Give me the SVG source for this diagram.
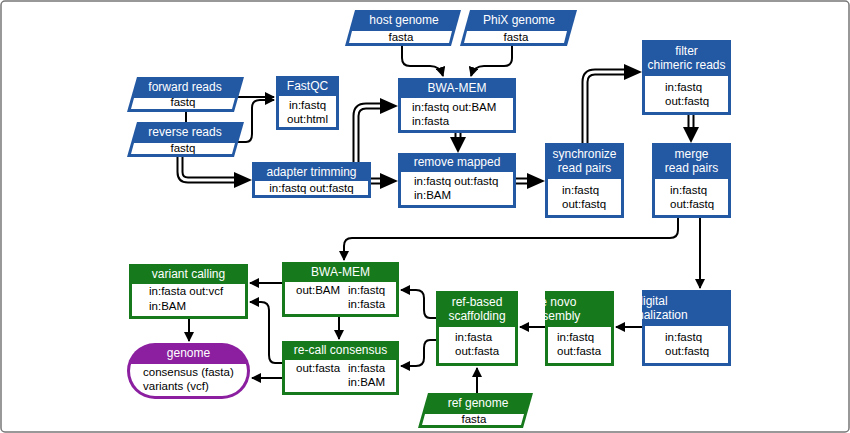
<svg xmlns="http://www.w3.org/2000/svg" width="850" height="433" viewBox="0 0 850 433">
<style>
text{font-family:"Liberation Sans",Arial,sans-serif;font-size:11.5px}
.h{fill:#fff;text-anchor:middle;font-size:12px}
.b{fill:#000}
.c{text-anchor:middle}
.blue{fill:#2358a3}
.green{fill:#167a1c}
.w{fill:#fff}
.s{fill:none;stroke:#000;stroke-width:2}
.d1{fill:none;stroke:#000;stroke-width:7}
.d2{fill:none;stroke:#fff;stroke-width:3}
</style>
<defs>
<marker id="a" viewBox="0 0 10 10" refX="9" refY="5" markerWidth="5" markerHeight="5" orient="auto"><path d="M0,0L10,5L0,10z"/></marker>
<marker id="ad" viewBox="0 0 10 10" refX="9" refY="5" markerWidth="2.6" markerHeight="2.6" orient="auto"><path d="M0,0L10,5L0,10z"/></marker>
<clipPath id="gc"><rect x="130" y="346" width="117" height="50" rx="25"/></clipPath>
</defs>
<rect x="1" y="1" width="848" height="431" rx="4" fill="#fff" stroke="#777" stroke-width="1.5"/>

<g id="connectors">
<g class="double">
<path class="d1" d="M180,157V172q0,8 8,8H236"/><path class="d2" d="M180,157V172q0,8 8,8H238"/>
<path d="M234,172L252,180L234,188z"/>
<path class="d1" d="M356,162V116q0,-10 10,-10H382"/><path class="d2" d="M356,163V116q0,-10 10,-10H384"/>
<path d="M380,98L398,106L380,114z"/>
<path class="d1" d="M371,181H382"/><path class="d2" d="M370,181H384"/>
<path d="M380,173L398,181L380,189z"/>
<path class="d1" d="M458,133V140"/><path class="d2" d="M458,132V141"/>
<path d="M450,137L458,153L466,137z"/>
<path class="d1" d="M516,181H529"/><path class="d2" d="M515,181H531"/>
<path d="M527,173L545,181L527,189z"/>
<path class="d1" d="M585,143V82q0,-10 10,-10H626"/><path class="d2" d="M585,144V82q0,-10 10,-10H628"/>
<path d="M624,64L642,72L624,80z"/>
<path class="d1" d="M691,115V128"/><path class="d2" d="M691,114V130"/>
<path d="M683,127L691,143L699,127z"/>
</g>
<line x1="186" y1="112" x2="186" y2="122" stroke="#000" stroke-width="2"/>
<path class="s" d="M236,97H274" marker-end="url(#a)"/>
<path class="s" d="M238,142H246q6,0 6,-8V108q0,-8 8,-8H274" marker-end="url(#a)"/>
<path class="s" d="M402,46V58q0,8 8,8H430q10,0 13,10" marker-end="url(#a)"/>
<path class="s" d="M512,46V58q0,8 -8,8H484q-10,0 -13,10" marker-end="url(#a)"/>
<path class="s" d="M678,218V230q0,8 -8,8H352q-8,0 -8,8V260" marker-end="url(#a)"/>
<path class="s" d="M700,218V288" marker-end="url(#a)"/>
<path class="s" d="M642,327H616" marker-end="url(#a)"/>
<path class="s" d="M545,327H520" marker-end="url(#a)"/>
<path class="s" d="M477,393V368" marker-end="url(#a)"/>
<path class="s" d="M436,318H430q-6,0 -6,-8V298q0,-8 -8,-8H401" marker-end="url(#a)"/>
<path class="s" d="M436,340H430q-6,0 -6,8V358q0,8 -8,8H401" marker-end="url(#a)"/>
<path class="s" d="M282,283H250" marker-end="url(#a)"/>
<path class="s" d="M282,363H275q-6,0 -6,-8V310q0,-8 -8,-8H250" marker-end="url(#a)"/>
<path class="s" d="M282,378H252" marker-end="url(#a)"/>
<path class="s" d="M189,319V341" marker-end="url(#a)"/>
<path class="s" d="M339,317V339" marker-end="url(#a)"/>
</g>

<g id="forward-reads"><polygon class="blue" points="137,77 244,77 234,112 127,112"/><polygon class="w" points="134,98 235,98 232,109 131,109"/><text class="h" x="185" y="91">forward reads</text><text class="c" x="183" y="106">fastq</text></g>
<g id="reverse-reads"><polygon class="blue" points="137,122 244,122 234,157 127,157"/><polygon class="w" points="134,143 235,143 232,154 131,154"/><text class="h" x="185" y="136">reverse reads</text><text class="c" x="183" y="152">fastq</text></g>
<g id="fastqc"><rect class="blue" x="276" y="76" width="63" height="54"/><rect class="w" x="279" y="96" width="57" height="31"/><text class="h" x="307.5" y="90">FastQC</text><text class="c" x="307.5" y="109">in:fastq</text><text class="c" x="307.5" y="123">out:html</text></g>
<g id="host-genome"><polygon class="blue" points="355,10 461,10 451,46 345,46"/><polygon class="w" points="352,31 452,31 449,43 349,43"/><text class="h" x="404" y="24">host genome</text><text class="c" x="401" y="41">fasta</text></g>
<g id="phix-genome"><polygon class="blue" points="470,10 577,10 567,46 460,46"/><polygon class="w" points="467,31 567,31 564,43 464,43"/><text class="h" x="519" y="24">PhiX genome</text><text class="c" x="516" y="41">fasta</text></g>
<g id="bwa-mem-1"><rect class="blue" x="398" y="78" width="118" height="55"/><rect class="w" x="401" y="98" width="112" height="32"/><text class="h" x="457" y="92">BWA-MEM</text><text class="b" x="412" y="111">in:fastq  out:BAM</text><text class="b" x="412" y="125">in:fasta</text></g>
<g id="adapter-trimming"><rect class="blue" x="252" y="162" width="119" height="36"/><rect class="w" x="255" y="181" width="113" height="14"/><text class="h" x="311.5" y="176">adapter trimming</text><text class="c" x="311.5" y="192">in:fastq  out:fastq</text></g>
<g id="remove-mapped"><rect class="blue" x="398" y="153" width="118" height="55"/><rect class="w" x="401" y="172" width="112" height="33"/><text class="h" x="457" y="166">remove mapped</text><text class="b" x="414" y="185">in:fastq  out:fastq</text><text class="b" x="414" y="199">in:BAM</text></g>
<g id="synchronize"><rect class="blue" x="545" y="143" width="79" height="75"/><rect class="w" x="548" y="179" width="73" height="36"/><text class="h" x="584.5" y="158">synchronize</text><text class="h" x="584.5" y="172">read pairs</text><text class="b" x="562" y="194">in:fastq</text><text class="b" x="562" y="208">out:fastq</text></g>
<g id="filter-chimeric"><rect class="blue" x="642" y="40" width="89" height="75"/><rect class="w" x="645" y="76" width="83" height="36"/><text class="h" x="686.5" y="55">filter</text><text class="h" x="686.5" y="69">chimeric reads</text><text class="b" x="665" y="91">in:fastq</text><text class="b" x="665" y="105">out:fastq</text></g>
<g id="merge-read-pairs"><rect class="blue" x="652" y="143" width="79" height="75"/><rect class="w" x="655" y="179" width="73" height="36"/><text class="h" x="691.5" y="158">merge</text><text class="h" x="691.5" y="172">read pairs</text><text class="b" x="670" y="194">in:fastq</text><text class="b" x="670" y="208">out:fastq</text></g>
<g id="digital-normalization"><rect class="blue" x="642" y="290" width="89" height="76"/><rect class="w" x="645" y="326" width="83" height="37"/><text class="h" x="652" y="305" text-anchor="start">digital</text><text class="h" x="652" y="319" text-anchor="start">normalization</text><text class="b" x="665" y="341">in:fastq</text><text class="b" x="665" y="355">out:fastq</text></g>
<g id="de-novo-assembly"><rect class="green" x="545" y="291" width="69" height="75"/><rect class="w" x="548" y="327" width="63" height="36"/><text class="h" x="555" y="306" text-anchor="start">de novo</text><text class="h" x="555" y="320" text-anchor="start">assembly</text><text class="b" x="557" y="341">in:fastq</text><text class="b" x="557" y="355">out:fasta</text></g>
<g id="ref-based-scaffolding"><rect class="green" x="436" y="291" width="82" height="75"/><rect class="w" x="439" y="327" width="76" height="36"/><text class="h" x="477" y="306">ref-based</text><text class="h" x="477" y="320">scaffolding</text><text class="b" x="455" y="341">in:fasta</text><text class="b" x="455" y="355">out:fasta</text></g>
<g id="ref-genome"><polygon class="green" points="428,393 533,393 523,428 418,428"/><polygon class="w" points="425,414 524,414 521,425 422,425"/><text class="h" x="478" y="407">ref genome</text><text class="c" x="474" y="423">fasta</text></g>
<g id="bwa-mem-2"><rect class="green" x="282" y="262" width="117" height="55"/><rect class="w" x="285" y="282" width="111" height="32"/><text class="h" x="340.5" y="276">BWA-MEM</text><text class="b" x="296" y="294">out:BAM</text><text class="b" x="348" y="294">in:fastq</text><text class="b" x="348" y="308">in:fasta</text></g>
<g id="re-call-consensus"><rect class="green" x="282" y="341" width="117" height="54"/><rect class="w" x="285" y="360" width="111" height="32"/><text class="h" x="340.5" y="354">re-call consensus</text><text class="b" x="296" y="372">out:fasta</text><text class="b" x="348" y="372">in:fasta</text><text class="b" x="348" y="386">in:BAM</text></g>
<g id="variant-calling"><rect class="green" x="129" y="264" width="119" height="55"/><rect class="w" x="132" y="284" width="113" height="32"/><text class="h" x="188.5" y="278">variant calling</text><text class="b" x="149" y="295">in:fasta  out:vcf</text><text class="b" x="149" y="310">in:BAM</text></g>
<g id="genome"><rect x="127" y="343" width="123" height="56" rx="28" fill="#8b1fa0"/><rect class="w" x="130" y="364" width="117" height="32" clip-path="url(#gc)"/><text class="h" x="188.5" y="357">genome</text><text class="b" x="143" y="376">consensus (fasta)</text><text class="b" x="143" y="390">variants (vcf)</text></g>
</svg>
